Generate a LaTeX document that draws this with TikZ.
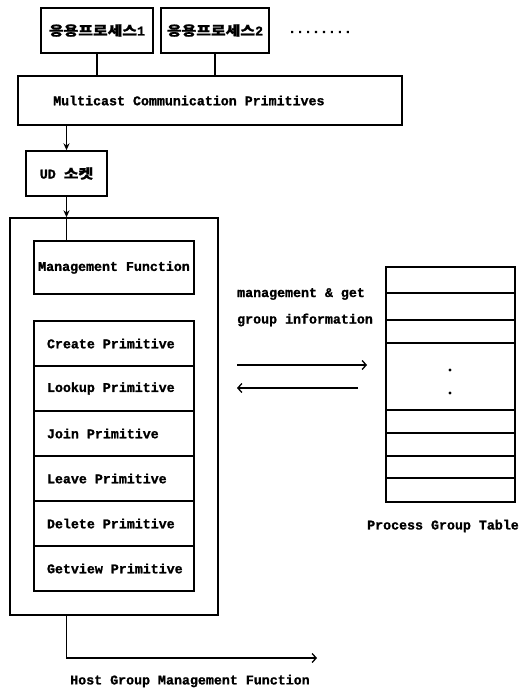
\documentclass[tikz,border=0pt]{standalone}
\usepackage{fontspec}
\setmainfont{Liberation Mono}[BoldFeatures={FakeBold=1.2}]
\newfontfamily\cjk[FakeStretch=1.2,BoldFeatures={FakeBold=1}]{Noto Sans CJK KR}
\usetikzlibrary{arrows.meta}
\begin{document}
\begin{tikzpicture}[x=1pt,y=-1pt,
  every node/.style={font=\fontsize{13.3}{16}\selectfont\bfseries, inner sep=0pt},
  box/.style={draw, line width=1.4pt},
  conn/.style={line width=1.2pt},
  downarrow/.style={conn, -{Stealth[length=7pt,width=6pt]}},
  barb/.style={conn, -{Straight Barb[length=4pt,width=9pt,line width=1.3pt]}},
  primbox/.style={box, minimum width=160pt, minimum height=45pt},
  trow/.style={draw, line width=1.2pt, minimum width=129pt},
  tdot/.style={circle, fill, minimum size=3.2pt}]
\useasboundingbox (0,0) rectangle (520,693);

% application processes
\node[box, minimum width=112pt, minimum height=45pt] (p1) at (97,30.5) {{\cjk 응용프로세스}1};
\node[box, minimum width=108pt, minimum height=45pt] (p2) at (215,30.5) {{\cjk 응용프로세스}2};
\node (dots) at (320,32) {........};

% multicast primitives
\node[box, minimum width=384pt, minimum height=49pt] (mc) at (210,100.5) {};
\node[anchor=west] (mctext) at (53,100.5) {Multicast Communication Primitives};
\draw[conn] (p1.south) -- (p1.south |- mc.north);
\draw[conn] (p2.south) -- (p2.south |- mc.north);

% UD socket
\node[box, minimum width=81pt, minimum height=45pt] (ud) at (66.5,173.5) {UD {\cjk 소켓}};
\draw[downarrow] (ud.north |- mc.south) -- (ud.north);

% host group management function
\node[box, minimum width=208pt, minimum height=397pt] (outer) at (114,416.5) {};
\node[box, minimum width=160pt, minimum height=53pt] (mg) at (114,267.5) {Management Function};
\draw[downarrow] (ud.south) -- (ud.south |- outer.north);
\draw[conn] (ud.south |- outer.north) -- (ud.south |- mg.north);

\node[primbox] (cr) at (114,343.5) {\makebox[134pt][l]{Create Primitive}};
\node[primbox] (lk) at (114,388.5) {\makebox[134pt][l]{Lookup Primitive}};
\node[primbox] (jn) at (114,433.5) {\makebox[134pt][l]{Join Primitive}};
\node[primbox] (lv) at (114,478.5) {\makebox[134pt][l]{Leave Primitive}};
\node[primbox] (dl) at (114,523.5) {\makebox[134pt][l]{Delete Primitive}};
\node[primbox] (gv) at (114,568.5) {\makebox[134pt][l]{Getview Primitive}};

\coordinate (hgend) at (317,658);
\draw[barb] (ud.south |- outer.south) -- (ud.south |- hgend) -- (hgend);
\node (hgtext) at (190,681) {Host Group Management Function};

% interaction arrows
\node[anchor=west] (lab1) at (237,294) {management \& get};
\node[anchor=west] (lab2) at (237,320) {group information};
\coordinate (ra1) at (237,365);
\coordinate (ra2) at (367,365);
\coordinate (la1) at (358,388);
\coordinate (la2) at (237,388);
\draw[barb] (ra1) -- (ra2);
\draw[barb] (la1) -- (la2);

% process group table
\node[trow, minimum height=26pt] (t1) at (450.5,280) {};
\node[trow, minimum height=27pt] (t2) at (450.5,306.5) {};
\node[trow, minimum height=23pt] (t3) at (450.5,331.5) {};
\node[trow, minimum height=67pt] (t4) at (450.5,376.5) {};
\node[trow, minimum height=23pt] (t5) at (450.5,421.5) {};
\node[trow, minimum height=23pt] (t6) at (450.5,444.5) {};
\node[trow, minimum height=22pt] (t7) at (450.5,467) {};
\node[trow, minimum height=24pt] (t8) at (450.5,490) {};
\node[tdot] (d1) at (450,370) {};
\node[tdot] (d2) at (450,393) {};
\node (pgt) at (443,526) {Process Group Table};
\end{tikzpicture}
\end{document}
